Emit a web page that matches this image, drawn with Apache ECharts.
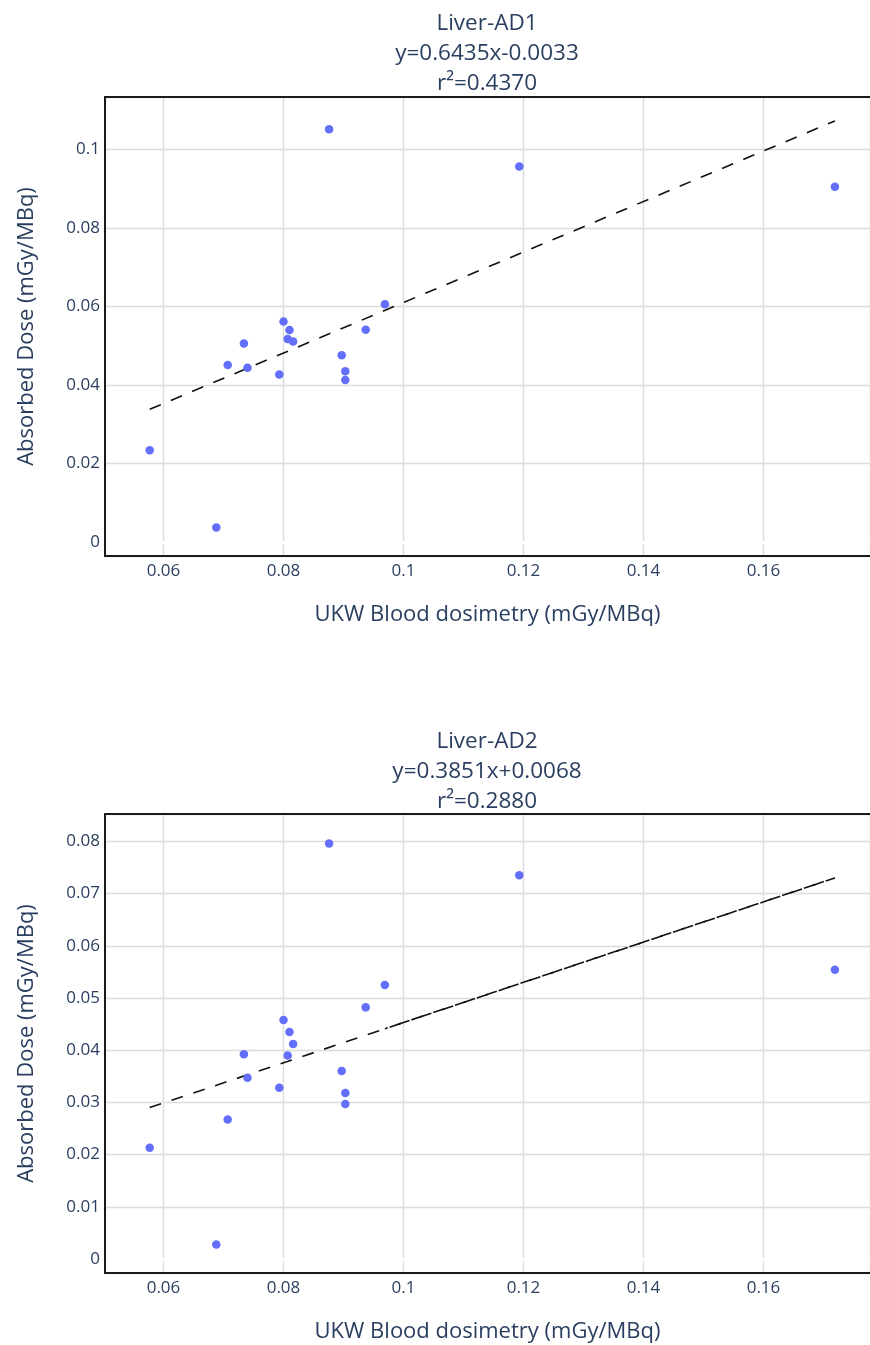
<!DOCTYPE html>
<html>
<head>
<meta charset="utf-8">
<script src="https://cdn.jsdelivr.net/npm/echarts@6/dist/echarts.min.js"></script>
<style>
  html, body { margin: 0; padding: 0; background: #fff; }
  #chart { width: 870px; height: 1345px; }
</style>
</head>
<body>
<div id="chart"></div>
<script>
// UKW blood dosimetry (x), shared by both panels
const xValues = [0.0577, 0.0688, 0.0707, 0.0734, 0.0740, 0.0793, 0.0800, 0.0810, 0.0807, 0.0816, 0.0876, 0.0897, 0.0903, 0.0903, 0.0937, 0.0969, 0.1193, 0.1719];
// Liver-AD1 absorbed dose
const ad1Values = [0.0234, 0.0037, 0.0451, 0.0506, 0.0444, 0.0427, 0.0562, 0.0540, 0.0517, 0.0511, 0.1052, 0.0476, 0.0435, 0.0413, 0.0541, 0.0606, 0.0957, 0.0905];
// Liver-AD2 absorbed dose
const ad2Values = [0.0213, 0.0028, 0.0267, 0.0392, 0.0347, 0.0328, 0.0458, 0.0435, 0.0390, 0.0412, 0.0796, 0.0360, 0.0318, 0.0297, 0.0482, 0.0525, 0.0735, 0.0554];
// Fitted line end points
const fit1Points = [[0.0577, 0.0338], [0.1719, 0.1073]];
const fit2Points = [[0.0577, 0.0290], [0.1719, 0.0730]];
const fit2Overlay = [[0.0969, 0.0441], [0.1719, 0.0730]];
const titles = [
  'Liver-AD1\ny=0.6435x-0.0033\nr\u00B2=0.4370',
  'Liver-AD2\ny=0.3851x+0.0068\nr\u00B2=0.2880'
];
const xTitle = 'UKW Blood dosimetry (mGy/MBq)';
const yTitle = 'Absorbed Dose (mGy/MBq)';
const xRange = [0.05025, 0.17775];
const y1Range = [-0.00357, 0.1134];
const y2Range = [-0.00268, 0.08524];

const FONT = '"Open Sans", "Noto Sans", sans-serif';
const TXT = '#2a3f5f';
const GRIDC = '#dcdcdc';
const MARK = '#636efa';
const FRAME = '#1a1a1a';

const pairs = (xs, ys) => xs.map((x, i) => [x, ys[i]]);

function xAxisCfg(gi) {
  return {
    type: 'value', gridIndex: gi, position: 'bottom', min: xRange[0], max: xRange[1], splitNumber: 6,
    name: xTitle, nameLocation: 'middle', nameGap: 48,
    nameTextStyle: { color: TXT, fontSize: 22, fontFamily: FONT },
    axisLine: { show: true, onZero: false, lineStyle: { color: FRAME, width: 2 } },
    axisTick: { show: false },
    axisLabel: { color: TXT, fontSize: 17, fontFamily: FONT, margin: 7, showMinLabel: false, showMaxLabel: false },
    splitLine: { show: true, lineStyle: { color: GRIDC, width: 1.4 } },
    z: 1
  };
}
function xTopFrame(gi) {
  return {
    type: 'value', gridIndex: gi, position: 'top', min: xRange[0], max: xRange[1],
    axisLine: { show: true, onZero: false, lineStyle: { color: FRAME, width: 2 } },
    axisTick: { show: false }, axisLabel: { show: false }, splitLine: { show: false },
    z: 10
  };
}
function yAxisCfg(gi, range, split) {
  return {
    type: 'value', gridIndex: gi, position: 'left', min: range[0], max: range[1], splitNumber: split,
    name: yTitle, nameLocation: 'middle', nameGap: 67,
    nameTextStyle: { color: TXT, fontSize: 22, fontFamily: FONT },
    axisLine: { show: false, onZero: false },
    axisTick: { show: false },
    axisLabel: { color: TXT, fontSize: 17, fontFamily: FONT, margin: 5, showMinLabel: false, showMaxLabel: false },
    splitLine: { show: true, lineStyle: { color: GRIDC, width: 1.4 } },
    z: 1
  };
}
function yLeftFrame(gi, range) {
  return {
    type: 'value', gridIndex: gi, position: 'left', offset: 0, min: range[0], max: range[1],
    axisLine: { show: true, onZero: false, lineStyle: { color: FRAME, width: 2 } },
    axisTick: { show: false }, axisLabel: { show: false }, splitLine: { show: false },
    z: 10
  };
}
function zeroLine() {
  return {
    silent: true, symbol: 'none', label: { show: false },
    lineStyle: { color: '#ffffff', width: 2.8, type: 'solid' },
    data: [{ yAxis: 0 }]
  };
}

const chart = echarts.init(document.getElementById('chart'), null, { renderer: 'canvas' });
chart.setOption({
  animation: false,
  backgroundColor: '#ffffff',
  title: [
    { text: titles[0], left: 482, top: 4, textAlign: 'center',
      textStyle: { color: TXT, fontSize: 22.5, fontWeight: 'normal', fontFamily: FONT, lineHeight: 30 } },
    { text: titles[1], left: 482, top: 722, textAlign: 'center',
      textStyle: { color: TXT, fontSize: 22.5, fontWeight: 'normal', fontFamily: FONT, lineHeight: 30 } }
  ],
  grid: [
    { left: 105, top: 97, right: 0, height: 459, show: false, containLabel: false },
    { left: 105, top: 814, right: 0, height: 459, show: false, containLabel: false }
  ],
  xAxis: [xAxisCfg(0), xAxisCfg(1), xTopFrame(0), xTopFrame(1)],
  yAxis: [yAxisCfg(0, y1Range, 6), yAxisCfg(1, y2Range, 8), yLeftFrame(0, y1Range), yLeftFrame(1, y2Range)],
  series: [
    { type: 'scatter', xAxisIndex: 0, yAxisIndex: 0, data: pairs(xValues, ad1Values),
      symbolSize: 8.5, itemStyle: { color: MARK, opacity: 1 }, z: 4, markLine: zeroLine() },
    { type: 'line', xAxisIndex: 0, yAxisIndex: 0, data: fit1Points, symbol: 'none', z: 3,
      lineStyle: { color: '#111', width: 1.6, type: [12, 11] } },
    { type: 'scatter', xAxisIndex: 1, yAxisIndex: 1, data: pairs(xValues, ad2Values),
      symbolSize: 8.5, itemStyle: { color: MARK, opacity: 1 }, z: 4, markLine: zeroLine() },
    { type: 'line', xAxisIndex: 1, yAxisIndex: 1, data: fit2Points, symbol: 'none', z: 3,
      lineStyle: { color: '#111', width: 1.6, type: [12, 11] } },
    { type: 'line', xAxisIndex: 1, yAxisIndex: 1, data: fit2Overlay, symbol: 'none', z: 3,
      lineStyle: { color: '#111', width: 1.6, type: [12, 11], dashOffset: 9 } }
  ]
});
</script>
</body>
</html>
